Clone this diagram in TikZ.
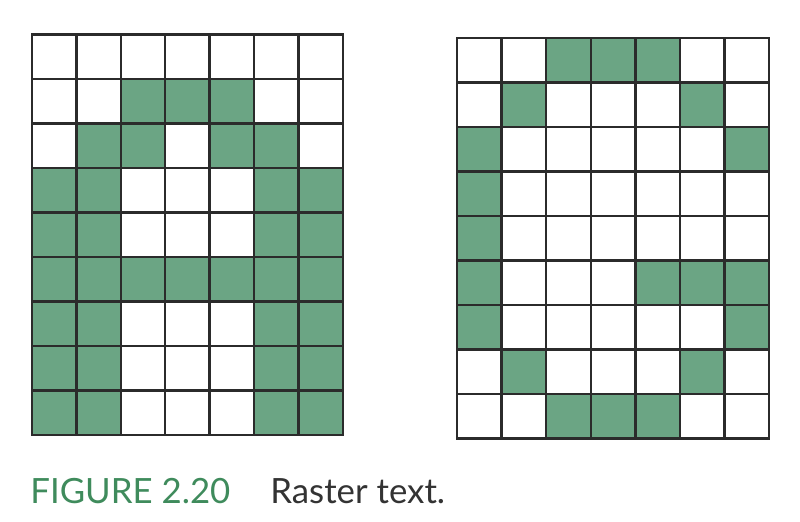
\documentclass[tikz,border=0pt]{standalone}
\usepackage{fontspec}
\setmainfont{Lato}
\usetikzlibrary{positioning}
\definecolor{pixgreen}{HTML}{6BA584}
\definecolor{capgreen}{HTML}{3F8B5C}
\definecolor{gridline}{HTML}{2B2B2B}
\definecolor{captext}{HTML}{333333}
\tikzset{
	pixel/.style={fill=pixgreen},
	cellline/.style={draw=gridline,line width=1.3pt,line cap=rect},
	caption/.style={anchor=base west,inner sep=0pt,font=\fontsize{19.8}{22}\selectfont}
}
\begin{document}
\begin{tikzpicture}[x=0.02cm,y=-0.02cm]
	\useasboundingbox (0,0) rectangle (800,521);
	
	% letter A
	\begin{scope}[shift={(32,34.5)}]
		\foreach \r/\cols in {1/{2,3,4},2/{1,2,4,5},3/{0,1,5,6},4/{0,1,5,6},
			5/{0,1,2,3,4,5,6},6/{0,1,5,6},7/{0,1,5,6},8/{0,1,5,6}}
			\foreach \c in \cols
				\fill[pixel] (\c*44.4,\r*44.5) rectangle ++(44.4,44.5);
		\foreach \i in {0,...,7}
			\draw[cellline] (\i*44.4,0) -- (\i*44.4,9*44.5);
		\foreach \j in {0,...,9}
			\draw[cellline] (0,\j*44.5) -- (7*44.4,\j*44.5);
	\end{scope}
	
	% letter G
	\begin{scope}[shift={(457,38)}]
		\foreach \r/\cols in {0/{2,3,4},1/{1,5},2/{0,6},3/{0},4/{0},
			5/{0,4,5,6},6/{0,6},7/{1,5},8/{2,3,4}}
			\foreach \c in \cols
				\fill[pixel] (\c*44.6,\r*44.5) rectangle ++(44.6,44.5);
		\foreach \i in {0,...,7}
			\draw[cellline] (\i*44.6,0) -- (\i*44.6,9*44.5);
		\foreach \j in {0,...,9}
			\draw[cellline] (0,\j*44.5) -- (7*44.6,\j*44.5);
	\end{scope}
	
	\node[caption,text=capgreen] (fig) at (30,503) {FIGURE 2.20};
	\node[caption,text=captext] (cap) at (270,503) {Raster text.};
\end{tikzpicture}
\end{document}
